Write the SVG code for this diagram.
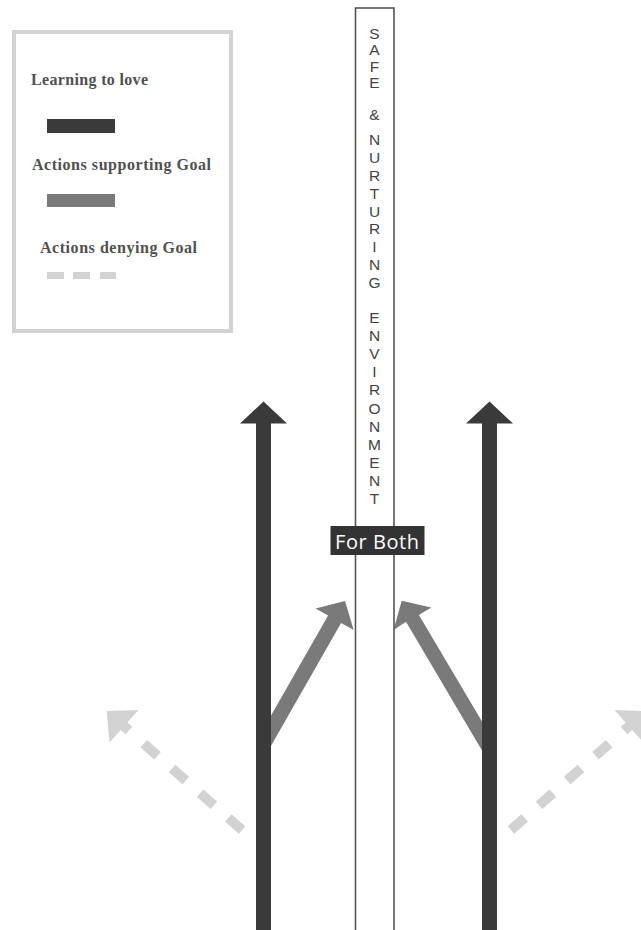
<svg xmlns="http://www.w3.org/2000/svg" width="641" height="930" viewBox="0 0 641 930">
<style>
.leg{font-family:"Liberation Serif",serif;font-weight:bold;font-size:16px;fill:#505050}
.col{font-family:"Liberation Sans","Open Sans",sans-serif;font-size:15.5px;fill:#444;text-anchor:middle}
.dark{fill:#3a3a3a}
.mid{fill:#7a7a7a}
.dash{stroke:#d2d2d2;stroke-width:10;fill:none}
.lite{fill:#d2d2d2}
</style>
<rect width="641" height="930" fill="#ffffff"/>
<g id="legend">
<rect x="14" y="32" width="217" height="299" fill="none" stroke="#d2d2d2" stroke-width="4"/>
<text class="leg" x="31" y="85" textLength="117">Learning to love</text>
<rect class="dark" x="47" y="119" width="68" height="14"/>
<text class="leg" x="32" y="170" textLength="179">Actions supporting Goal</text>
<rect class="mid" x="47" y="194" width="68" height="13"/>
<text class="leg" x="40" y="253" textLength="157">Actions denying Goal</text>
<rect class="lite" x="47" y="272" width="17" height="7"/>
<rect class="lite" x="73" y="272" width="17" height="7"/>
<rect class="lite" x="100" y="272" width="16" height="7"/>
</g>
<g id="connectors">
<g id="denying-left">
<line class="dash" x1="116.1" y1="719.3" x2="128.9" y2="730.6"/>
<line class="dash" x1="143.8" y1="743.7" x2="157.6" y2="755.7"/>
<line class="dash" x1="172.0" y1="768.4" x2="185.8" y2="780.4"/>
<line class="dash" x1="200.1" y1="793.2" x2="213.9" y2="805.2"/>
<line class="dash" x1="228.3" y1="817.9" x2="242.1" y2="829.9"/>
<polygon class="lite" points="106.7,711.1 138.5,710.0 109.5,742.6"/>
</g>
<g id="denying-right">
<line class="dash" x1="636.9" y1="719.3" x2="624.1" y2="730.6"/>
<line class="dash" x1="609.2" y1="743.7" x2="595.4" y2="755.7"/>
<line class="dash" x1="581.0" y1="768.4" x2="567.2" y2="780.4"/>
<line class="dash" x1="552.9" y1="793.2" x2="539.1" y2="805.2"/>
<line class="dash" x1="524.7" y1="817.9" x2="510.9" y2="829.9"/>
<polygon class="lite" points="646.3,711.1 614.5,710.0 643.5,742.6"/>
</g>
<polygon id="support-left" class="mid" points="257.5,739.3 328.1,615.5 315.5,608.4 345,601 353.7,630.1 341.1,623.0 270.5,746.7"/>
<polygon id="support-right" class="mid" points="482.9,752.1 406.0,621.7 393.5,630.0 401.7,600.7 431.3,607.6 418.9,615.0 495.5,744.3"/>
<g id="love-left">
<rect class="dark" x="256" y="422" width="15" height="508"/>
<polygon class="dark" points="240,423.5 263.5,401.5 287,423.5"/>
</g>
<g id="love-right">
<rect class="dark" x="482" y="422" width="15" height="508"/>
<polygon class="dark" points="466,423.5 489.5,401.5 513,423.5"/>
</g>
</g>
<g id="environment">
<rect x="355.5" y="8" width="38.5" height="930" fill="#ffffff" stroke="#555" stroke-width="1.6"/>
<text class="col"><tspan x="374.5" y="38.5">S</tspan><tspan x="374.5" y="55">A</tspan><tspan x="374.5" y="71.5">F</tspan><tspan x="374.5" y="88">E</tspan><tspan x="374.5" y="120">&amp;</tspan><tspan x="374.5" y="145">N</tspan><tspan x="374.5" y="162.9">U</tspan><tspan x="374.5" y="180.8">R</tspan><tspan x="374.5" y="198.6">T</tspan><tspan x="374.5" y="216.5">U</tspan><tspan x="374.5" y="234.4">R</tspan><tspan x="374.5" y="252.3">I</tspan><tspan x="374.5" y="270.1">N</tspan><tspan x="374.5" y="288">G</tspan><tspan x="374.5" y="323">E</tspan><tspan x="374.5" y="341.1">N</tspan><tspan x="374.5" y="359.2">V</tspan><tspan x="374.5" y="377.3">I</tspan><tspan x="374.5" y="395.4">R</tspan><tspan x="374.5" y="413.5">O</tspan><tspan x="374.5" y="431.6">N</tspan><tspan x="374.5" y="449.7">M</tspan><tspan x="374.5" y="467.8">E</tspan><tspan x="374.5" y="485.9">N</tspan><tspan x="374.5" y="504">T</tspan></text>
</g>
<g id="for-both">
<rect x="330.5" y="526" width="94" height="29" fill="#333333"/>
<text x="335" y="548.5" font-family="'Open Sans','DejaVu Sans',sans-serif" font-size="20" fill="#ffffff" textLength="84">For Both</text>
</g>
</svg>
